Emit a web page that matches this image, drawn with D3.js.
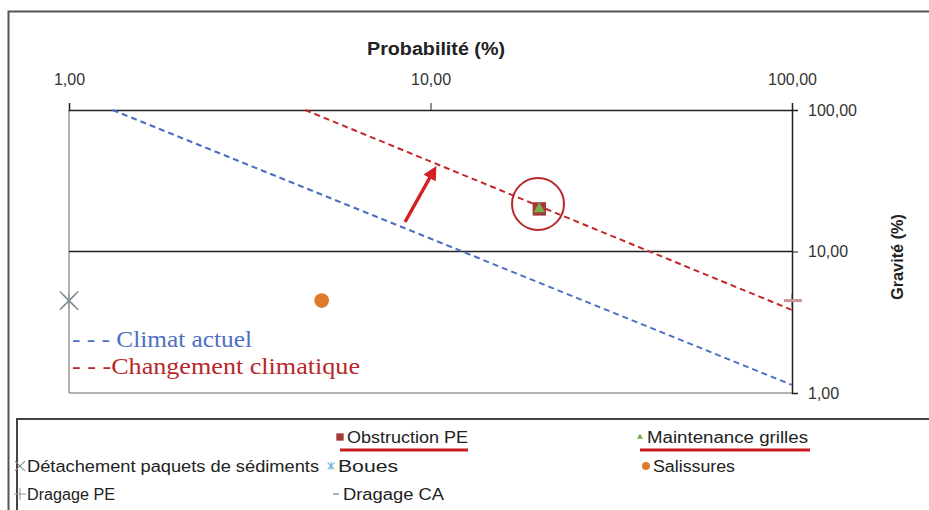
<!DOCTYPE html>
<html>
<head>
<meta charset="utf-8">
<script src="https://cdn.jsdelivr.net/npm/d3@7"></script>
<style>
  body { margin: 0; background: #fff; }
  svg { display: block; font-family: "Liberation Sans", Arial, sans-serif; }
  .axis path, .axis line { stroke: #222; }
  .axis text { font-size: 16px; fill: #333; }
</style>
</head>
<body>
<svg id="chart" width="929" height="510"></svg>
<script>
// tick values (both axes are log, in %)
var probTicks = [1, 10, 100];
var gravTicks = [1, 10, 100];

// iso-risk lines: [probabilite, gravite] end points
var climatActuel = [[1.32, 100], [100, 1.14]];
var changementClim = [[4.5, 100], [100, 3.86]];

// risks
var seriesNames = ["Obstruction PE", "Maintenance grilles", "Détachement paquets de sédiments",
                   "Boues", "Salissures", "Dragage PE", "Dragage CA"];
var seriesProb = [20, 20, 1, 1, 5, 100, 100];
var seriesGrav = [20, 20, 4.5, 4.5, 4.5, 4.5, 4.5];

var svg = d3.select("#chart");
var fr = d3.formatLocale({decimal: ",", thousands: " ", grouping: [3], currency: ["", " €"]});
var fmt = fr.format(".2f");

var x = d3.scaleLog().domain([1, 100]).range([69, 792]);
var y = d3.scaleLog().domain([1, 100]).range([393, 110]);

// excel style asterisk: x plus vertical bar
var symAst = {
  draw: function(ctx, size) {
    var r = Math.sqrt(size) / 2;
    ctx.moveTo(-r, -r); ctx.lineTo(r, r);
    ctx.moveTo(r, -r); ctx.lineTo(-r, r);
    ctx.moveTo(0, -r * 1.2); ctx.lineTo(0, r * 1.2);
  }
};

// outer frame
svg.append("rect")
  .attr("x", 8.5).attr("y", 11.5).attr("width", 940).attr("height", 520)
  .attr("fill", "none").attr("stroke", "#555").attr("stroke-width", 2);

var sym = {
  "Obstruction PE": {type: d3.symbolSquare, size: 180, fill: "#a3393b", stroke: "none"},
  "Maintenance grilles": {type: d3.symbolTriangle, size: 55, fill: "#78b04a", stroke: "none"},
  "Détachement paquets de sédiments": {type: d3.symbolX, size: 220, fill: "none", stroke: "#8a8a8a"},
  "Boues": {type: symAst, size: 150, fill: "none", stroke: "#6aaed6"},
  "Salissures": {type: d3.symbolCircle, size: 170, fill: "#e07b2a", stroke: "none"},
  "Dragage PE": {type: d3.symbolPlus, size: 60, fill: "none", stroke: "#999"},
  "Dragage CA": {type: null, size: 0, fill: "none", stroke: "#c9959a"}
};

function drawPoint(i) {
  var s = sym[seriesNames[i]];
  svg.append("path")
    .attr("transform", "translate(" + x(seriesProb[i]) + "," + y(seriesGrav[i]) + ")")
    .attr("d", d3.symbol().type(s.type).size(s.size)())
    .attr("fill", s.fill).attr("stroke", s.stroke).attr("stroke-width", 1.5);
}

// points hidden behind others go first
drawPoint(3);
drawPoint(5);

// left and bottom plot edges (grey)
svg.append("line").attr("x1", x(1)).attr("x2", x(1)).attr("y1", y(100)).attr("y2", y(1))
  .attr("stroke", "#999").attr("stroke-width", 1.5);
svg.append("line").attr("x1", x(1)).attr("x2", x(100)).attr("y1", y(1)).attr("y2", y(1))
  .attr("stroke", "#999").attr("stroke-width", 1.5);
// gridline at 10 %
svg.append("line").attr("x1", x(1)).attr("x2", x(100)).attr("y1", y(10)).attr("y2", y(10))
  .attr("stroke", "#222").attr("stroke-width", 1.5);

// top axis
var xAxis = svg.append("g").attr("class", "axis")
  .attr("transform", "translate(0," + y(100) + ")")
  .call(d3.axisTop(x).tickValues(probTicks).tickFormat(fmt).tickSizeOuter(0).tickSize(7).tickPadding(18));
xAxis.select(".domain").attr("stroke-width", 1.5);

// right axis
var yAxis = svg.append("g").attr("class", "axis")
  .attr("transform", "translate(" + x(100) + ",0)")
  .call(d3.axisRight(y).tickValues(gravTicks).tickFormat(fmt).tickSizeOuter(0).tickSize(6).tickPadding(10));
yAxis.select(".domain").attr("stroke-width", 1.5);
yAxis.selectAll("text").attr("x", 16);

svg.append("text").attr("x", 436).attr("y", 55).attr("text-anchor", "middle")
  .attr("font-size", 18).attr("font-weight", "bold").attr("fill", "#222")
  .attr("textLength", 138).attr("lengthAdjust", "spacingAndGlyphs")
  .text("Probabilité (%)");
svg.append("text").attr("transform", "translate(903,257) rotate(-90)").attr("text-anchor", "middle")
  .attr("font-size", 17).attr("font-weight", "bold").attr("fill", "#222")
  .attr("textLength", 86).attr("lengthAdjust", "spacingAndGlyphs")
  .text("Gravité (%)");

// dashed lines
var line = d3.line().x(d => x(d[0])).y(d => y(d[1]));
svg.append("path").datum(climatActuel).attr("d", line)
  .attr("fill", "none").attr("stroke", "#4a6fc0").attr("stroke-width", 2).attr("stroke-dasharray", "6,4");
svg.append("path").datum(changementClim).attr("d", line)
  .attr("fill", "none").attr("stroke", "#c0282c").attr("stroke-width", 2).attr("stroke-dasharray", "6,4");

// arrow
svg.append("defs").append("marker")
  .attr("id", "head").attr("viewBox", "0 0 10 10").attr("refX", 5).attr("refY", 5)
  .attr("markerWidth", 4).attr("markerHeight", 4).attr("orient", "auto")
  .append("path").attr("d", "M0,0L10,5L0,10z").attr("fill", "#d42020");
svg.append("line").attr("x1", 405).attr("y1", 222).attr("x2", 433).attr("y2", 172)
  .attr("stroke", "#d42020").attr("stroke-width", 3.5).attr("marker-end", "url(#head)");

// visible points
[2, 0, 1, 4].forEach(drawPoint);
// Dragage CA dash
svg.append("line")
  .attr("x1", x(seriesProb[6]) - 8).attr("x2", x(seriesProb[6]) + 10)
  .attr("y1", y(seriesGrav[6])).attr("y2", y(seriesGrav[6]))
  .attr("stroke", sym["Dragage CA"].stroke).attr("stroke-width", 3);

// red circle around the moved risk
svg.append("circle").attr("cx", 538).attr("cy", 204).attr("r", 26)
  .attr("fill", "none").attr("stroke", "#b8282a").attr("stroke-width", 2);

// in-plot legend (Times)
svg.append("text").attr("x", 72).attr("y", 347).attr("font-family", "Liberation Serif, Times New Roman, serif")
  .attr("font-size", 24).attr("fill", "#4f6fbf")
  .attr("textLength", 180).attr("lengthAdjust", "spacingAndGlyphs")
  .text("- - - Climat actuel");
svg.append("text").attr("x", 72).attr("y", 374).attr("font-family", "Liberation Serif, Times New Roman, serif")
  .attr("font-size", 24).attr("fill", "#b8282a")
  .attr("textLength", 288).attr("lengthAdjust", "spacingAndGlyphs")
  .text("- - -Changement climatique");

// bottom legend box
svg.append("rect").attr("x", 17).attr("y", 419).attr("width", 930).attr("height", 110)
  .attr("fill", "none").attr("stroke", "#444").attr("stroke-width", 2);

var legPos = [[340, 437], [640, 437], [20, 466], [331, 466], [646, 466], [20, 494], [336, 494]];
var legW = [121, 161, 292, 60, 82, 88, 101];
legPos.forEach(function(p, i) {
  var s = sym[seriesNames[i]];
  var g = svg.append("g").attr("transform", "translate(" + p[0] + "," + p[1] + ")");
  if (i === 6) {
    g.append("line").attr("x1", -3).attr("x2", 3).attr("stroke", "#999").attr("stroke-width", 1.5);
  } else {
    var sz = i === 5 ? 50 : s.size * 0.3;
    g.append("path").attr("d", d3.symbol().type(s.type).size(sz)())
      .attr("fill", s.fill).attr("stroke", s.stroke).attr("stroke-width", 1.1);
  }
  g.append("text").attr("x", 7).attr("y", 6).attr("font-size", 16).attr("fill", "#222")
    .attr("textLength", legW[i]).attr("lengthAdjust", "spacingAndGlyphs")
    .text(seriesNames[i]);
});
// red underlines
svg.append("line").attr("x1", 340).attr("x2", 468).attr("y1", 450).attr("y2", 450)
  .attr("stroke", "#c8161d").attr("stroke-width", 3);
svg.append("line").attr("x1", 640).attr("x2", 810).attr("y1", 450).attr("y2", 450)
  .attr("stroke", "#c8161d").attr("stroke-width", 3);
</script>
</body>
</html>
